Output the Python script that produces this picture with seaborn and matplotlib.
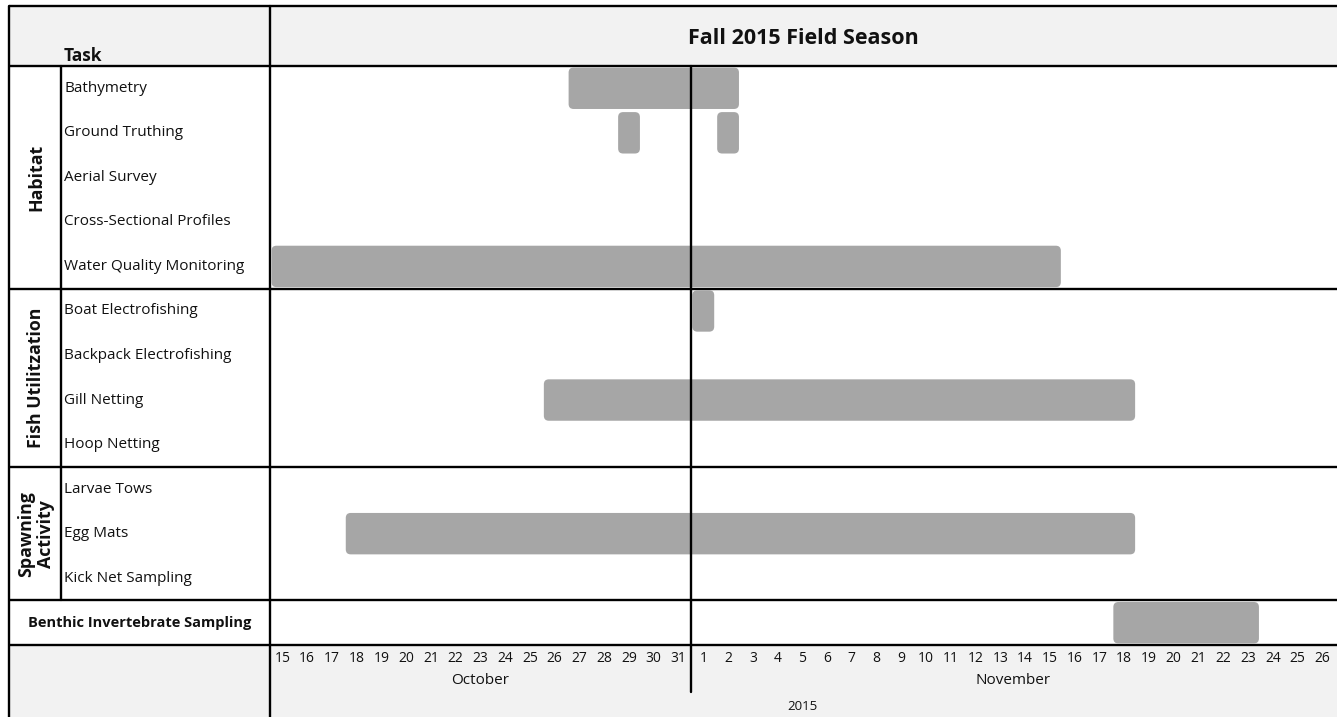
import numpy as np
import pandas as pd
import matplotlib
matplotlib.use("Agg")
import matplotlib.pyplot as plt
import matplotlib.transforms as mtransforms
from matplotlib.patches import FancyBboxPatch, Rectangle
import seaborn as sns

# ---- schedule data ----
groups = ["Habitat", "Fish Utilitzation", "Spawning\nActivity", "Benthic Invertebrate Sampling"]
group_sizes = [5, 4, 3, 1]
tasks = [
    "Bathymetry", "Ground Truthing", "Aerial Survey", "Cross-Sectional Profiles",
    "Water Quality Monitoring",
    "Boat Electrofishing", "Backpack Electrofishing", "Gill Netting", "Hoop Netting",
    "Larvae Tows", "Egg Mats", "Kick Net Sampling",
    "Benthic Invertebrate Sampling",
]

bar_tasks = ["Bathymetry", "Ground Truthing", "Ground Truthing",
             "Water Quality Monitoring", "Boat Electrofishing", "Gill Netting",
             "Egg Mats", "Benthic Invertebrate Sampling"]
bar_starts = ["2015-10-27", "2015-10-29", "2015-11-02", "2015-10-15",
              "2015-11-01", "2015-10-26", "2015-10-18", "2015-11-18"]
bar_ends = ["2015-11-02", "2015-10-29", "2015-11-02", "2015-11-15",
            "2015-11-01", "2015-11-18", "2015-11-18", "2015-11-23"]

season_start = "2015-10-15"
season_end = "2015-11-26"
title = "Fall 2015 Field Season"

# ---- styling ----
sns.set_theme(style="white")
plt.rcParams["font.family"] = ["Open Sans", "DejaVu Sans"]

BAR_COLOR = "#a6a6a6"
BAND_COLOR = "#f2f2f2"
TEXT_COLOR = "#111111"
LINE_W = 1.7

W, H, DPI = 1337, 717, 100
X_LEFT, X_GROUP, X_CHART, X_CHART_END, X_RIGHT = 9, 61, 270, 1334.7, 1337
Y_TOP, Y_HEAD, Y_AXIS, Y_BOTTOM = 6, 66, 645, 717

days = pd.date_range(season_start, season_end, freq="D")
n_days = len(days)
n_rows = len(tasks)
row_px = (Y_AXIS - Y_HEAD) / n_rows

fig = plt.figure(figsize=(W / DPI, H / DPI), dpi=DPI)

# Table frame: backgrounds, rules and header text in pixel space
frame = fig.add_axes([0, 0, 1, 1], zorder=0)
frame.set_xlim(0, W)
frame.set_ylim(H, 0)
frame.axis("off")

frame.add_patch(Rectangle((X_LEFT, Y_TOP), X_RIGHT - X_LEFT, Y_HEAD - Y_TOP,
                          facecolor=BAND_COLOR, edgecolor="none"))
frame.add_patch(Rectangle((X_LEFT, Y_AXIS), X_RIGHT - X_LEFT, Y_BOTTOM - Y_AXIS,
                          facecolor=BAND_COLOR, edgecolor="none"))

group_edges = Y_HEAD + np.concatenate([[0], np.cumsum(group_sizes)]) * row_px
for y in [Y_TOP, *group_edges]:
    frame.plot([X_LEFT, X_RIGHT], [y, y], color="black", lw=LINE_W,
               solid_capstyle="butt")
frame.plot([X_LEFT, X_LEFT], [Y_TOP, Y_BOTTOM], color="black", lw=LINE_W)
frame.plot([X_CHART, X_CHART], [Y_TOP, Y_BOTTOM], color="black", lw=LINE_W)
frame.plot([X_GROUP, X_GROUP], [Y_HEAD, group_edges[-2]], color="black", lw=LINE_W)

frame.text(X_GROUP + 3, Y_HEAD - 5, "Task", ha="left", va="baseline",
           fontsize=12.5, fontweight="bold", color=TEXT_COLOR)
frame.text((X_CHART + X_RIGHT) / 2, (Y_TOP + Y_HEAD) / 2 + 2, title,
           ha="center", va="center", fontsize=15.5, fontweight="bold",
           color=TEXT_COLOR)

# Group labels
for gi, (name, size) in enumerate(zip(groups, group_sizes)):
    y0, y1 = group_edges[gi], group_edges[gi + 1]
    if size > 1:
        frame.text((X_LEFT + X_GROUP) / 2 + 1, (y0 + y1) / 2, name, rotation=90,
                   ha="center", va="center", fontsize=12.8, fontweight="bold",
                   linespacing=1.15, multialignment="center", color=TEXT_COLOR)
    else:
        frame.text((X_LEFT + X_CHART) / 2, (y0 + y1) / 2, name,
                   ha="center", va="center", fontsize=10.5, fontweight="bold",
                   color=TEXT_COLOR)

# Task labels (single-task groups carry their name in the group cell)
row = 0
for name, size in zip(groups, group_sizes):
    for k in range(size):
        if size > 1:
            frame.text(X_GROUP + 3, Y_HEAD + (row + 0.5) * row_px, tasks[row],
                       ha="left", va="center", fontsize=11, color=TEXT_COLOR)
        row += 1

# ---- Gantt chart axes ----
ax = fig.add_axes([X_CHART / W, 1 - Y_AXIS / H,
                   (X_CHART_END - X_CHART) / W, (Y_AXIS - Y_HEAD) / H], zorder=1)
ax.patch.set_alpha(0)
ax.set_xlim(0, n_days)
ax.set_ylim(n_rows, 0)
for s in ax.spines.values():
    s.set_visible(False)
ax.set_yticks([])

# Rounded corners kept circular despite different x/y scales
px_per_day = (X_CHART_END - X_CHART) / n_days
aspect = px_per_day / row_px
radius = 5 / px_per_day

bars = pd.DataFrame({"task": bar_tasks,
                     "start": pd.to_datetime(bar_starts),
                     "end": pd.to_datetime(bar_ends)})
bars["row"] = bars["task"].map({t: i for i, t in enumerate(tasks)})
bars["x0"] = (bars["start"] - days[0]).dt.days
bars["x1"] = (bars["end"] - days[0]).dt.days + 1

pad_x, bar_h = 0.06, 0.93
for _, b in bars.iterrows():
    ax.add_patch(FancyBboxPatch(
        (b["x0"] + pad_x, b["row"] + 0.5 - bar_h / 2),
        (b["x1"] - b["x0"]) - 2 * pad_x, bar_h,
        boxstyle=f"round,pad=0,rounding_size={radius}",
        mutation_aspect=aspect,
        facecolor=BAR_COLOR, edgecolor="none", zorder=2))

# Day numbers along the bottom
ax.set_xticks(np.arange(n_days) + 0.5)
ax.set_xticklabels([str(d.day) for d in days], fontsize=10, color=TEXT_COLOR)
ax.tick_params(axis="x", length=0, pad=4)

# Month separators and month / year captions
trans = mtransforms.blended_transform_factory(ax.transData, ax.transAxes)
below = -(692 - Y_AXIS) / (Y_AXIS - Y_HEAD)
month_ids = days.to_period("M")
for m in month_ids.unique():
    idx = np.where(month_ids == m)[0]
    if idx[0] > 0:
        ax.plot([idx[0], idx[0]], [below, 1], transform=trans, color="black",
                lw=LINE_W, clip_on=False, zorder=3)
    ax.text((idx[0] + idx[-1] + 1) / 2, -(681 - Y_AXIS) / (Y_AXIS - Y_HEAD),
            m.strftime("%B"), transform=trans, ha="center", va="center",
            fontsize=11, clip_on=False, color=TEXT_COLOR)
ax.text(n_days / 2, -(706 - Y_AXIS) / (Y_AXIS - Y_HEAD), str(days[0].year),
        transform=trans, ha="center", va="center", fontsize=9.5, clip_on=False,
        color=TEXT_COLOR)

fig.savefig("out.png", dpi=DPI)
